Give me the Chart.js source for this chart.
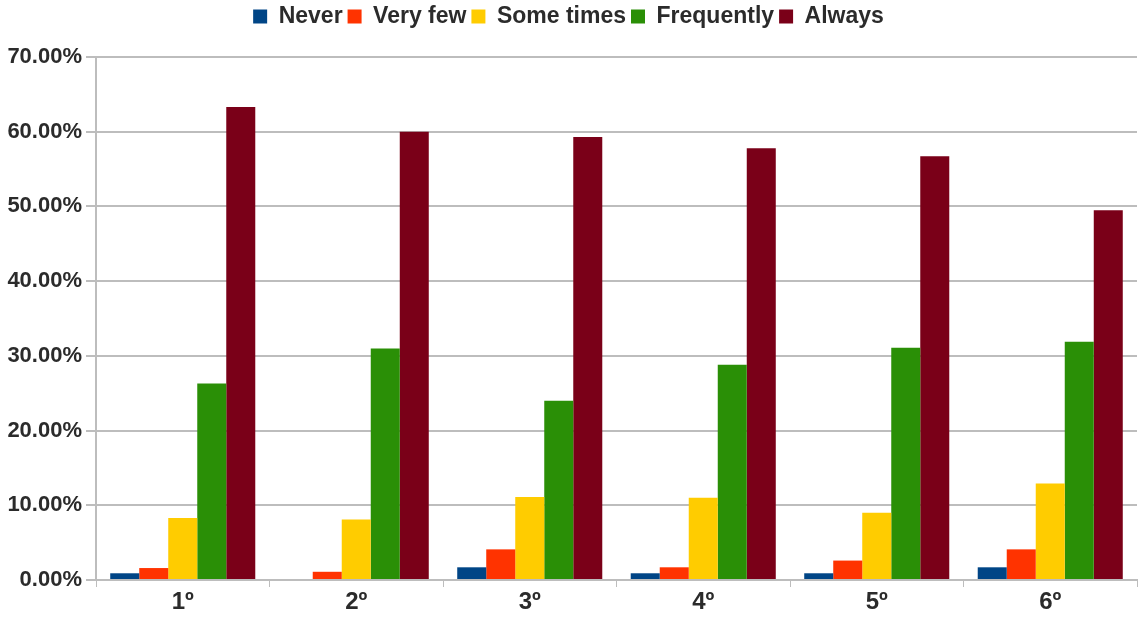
<!DOCTYPE html>
<html>
<head>
<meta charset="utf-8">
<script src="https://cdn.jsdelivr.net/npm/chart.js@4/dist/chart.umd.min.js"></script>
<style>
  html, body { margin: 0; padding: 0; background: #fff; }
  #wrap { width: 1139px; height: 618px; }
</style>
</head>
<body>
<div id="wrap"><canvas id="chart"></canvas></div>
<script>
// grades on the x axis
const grades = ['1º', '2º', '3º', '4º', '5º', '6º'];

// answer shares per grade, in percent
const never      = [0.9, 0.0, 1.7, 0.9, 0.9, 1.7];
const veryFew    = [1.6, 1.1, 4.1, 1.7, 2.6, 4.1];
const someTimes  = [8.3, 8.1, 11.1, 11.0, 9.0, 12.9];
const frequently = [26.3, 31.0, 24.0, 28.8, 31.1, 31.9];
const always     = [63.3, 60.0, 59.3, 57.8, 56.7, 49.5];

const seriesNames  = ['Never', 'Very few', 'Some times', 'Frequently', 'Always'];
const seriesColors = ['#004586', '#ff3300', '#ffcc00', '#2a8f06', '#7a0018'];

const yTicks = [0, 10, 20, 30, 40, 50, 60, 70];

const gridColor = '#bdbdbd';
const textColor = '#2b2b2b';
const fontFamily = 'Liberation Sans, Arial, sans-serif';

// push the plot area down below the legend, like the original
const legendGap = {
    id: 'legendGap',
    beforeUpdate(chart) {
        const legend = chart.legend;
        if (!legend || legend._gapPatched) return;
        const fit = legend.fit;
        legend.fit = function () {
            fit.call(this);
            this.height += 19;
        };
        legend._gapPatched = true;
    }
};

const values = [never, veryFew, someTimes, frequently, always];

new Chart(document.getElementById('chart'), {
    type: 'bar',
    data: {
        labels: grades,
        datasets: values.map((data, i) => ({
            label: seriesNames[i],
            data: data,
            backgroundColor: seriesColors[i],
            borderWidth: 0,
            categoryPercentage: 0.836,
            barPercentage: 1.0
        }))
    },
    options: {
        responsive: true,
        maintainAspectRatio: false,
        animation: false,
        layout: { padding: { left: 0, right: 2, top: 0, bottom: 0 } },
        plugins: {
            legend: {
                position: 'top',
                labels: {
                    color: textColor,
                    boxWidth: 14,
                    boxHeight: 14,
                    padding: 5,
                    font: { family: fontFamily, size: 23, weight: 'bold' }
                }
            },
            tooltip: { enabled: false }
        },
        scales: {
            x: {
                grid: {
                    display: true,
                    drawOnChartArea: false,
                    color: gridColor,
                    tickLength: 7,
                    offset: true
                },
                border: { color: gridColor, width: 2 },
                ticks: {
                    color: textColor,
                    padding: 1,
                    font: { family: fontFamily, size: 24, weight: 'bold' }
                },
                afterFit(scale) { scale.height = 38; }
            },
            y: {
                min: 0,
                max: 70,
                afterBuildTicks(scale) {
                    scale.ticks = yTicks.map(v => ({ value: v }));
                },
                grid: {
                    color: gridColor,
                    lineWidth: 2,
                    tickLength: 10
                },
                border: { color: gridColor, width: 2 },
                ticks: {
                    color: textColor,
                    padding: 4,
                    font: { family: fontFamily, size: 22, weight: 'bold' },
                    callback: (value) => value.toFixed(2) + '%'
                },
                afterFit(scale) { scale.width = 96; }
            }
        }
    },
    plugins: [legendGap]
});
</script>
</body>
</html>
